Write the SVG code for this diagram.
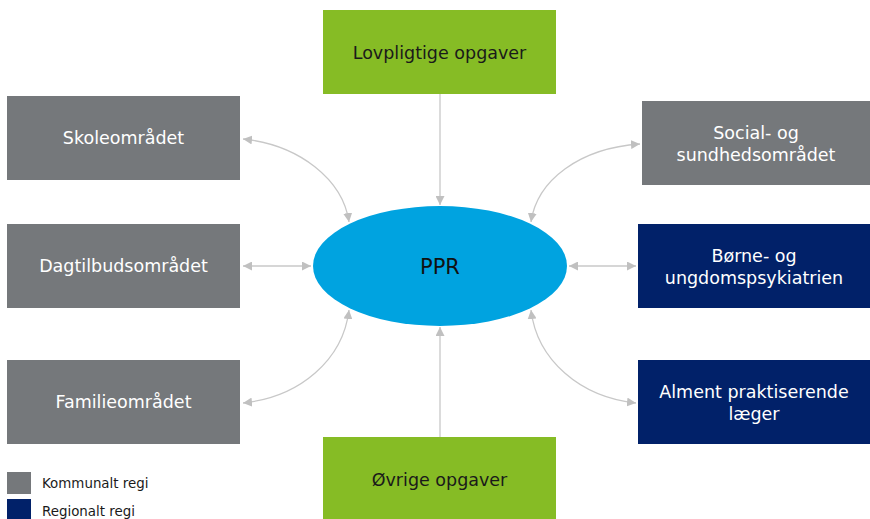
<svg xmlns="http://www.w3.org/2000/svg" width="870" height="519" viewBox="0 0 870 519">
<style>
.box text, .lbl{font-family:"DejaVu Sans","Verdana",sans-serif;font-size:17.5px;text-anchor:middle}
.gray rect{fill:#75787b}
.navy rect{fill:#012169}
.green rect{fill:#86bc25}
.gray text,.navy text{fill:#ffffff}
.green text{fill:#1a1a1a}
.con{fill:none;stroke:#c8c8c8;stroke-width:1.3}
.leg{font-family:"DejaVu Sans","Verdana",sans-serif;font-size:13.4px;fill:#1a1a1a}
</style>
<defs>
<marker id="ah" viewBox="0 0 10 10" refX="10" refY="5" markerWidth="9" markerHeight="9" markerUnits="userSpaceOnUse" orient="auto-start-reverse">
<path d="M0,0 L10,5 L0,10 z" fill="#c0c0c0"/>
</marker>
</defs>
<rect width="870" height="519" fill="#ffffff"/>
<g id="connectors">
<path class="con" d="M440,94 L440,205" marker-end="url(#ah)"/>
<path class="con" d="M440,437 L440,327" marker-end="url(#ah)"/>
<path class="con" d="M243,139 C300,145 343,180 349,222" marker-start="url(#ah)" marker-end="url(#ah)"/>
<path class="con" d="M243,266 L311,266" marker-start="url(#ah)" marker-end="url(#ah)"/>
<path class="con" d="M349,310 C343,360 300,397 243,403" marker-start="url(#ah)" marker-end="url(#ah)"/>
<path class="con" d="M640,144 C580,148 537,180 531,222" marker-start="url(#ah)" marker-end="url(#ah)"/>
<path class="con" d="M569,266 L636,266" marker-start="url(#ah)" marker-end="url(#ah)"/>
<path class="con" d="M531,310 C537,360 580,397 636,403" marker-start="url(#ah)" marker-end="url(#ah)"/>
</g>
<g id="ppr">
<ellipse cx="440" cy="266" rx="127" ry="60" fill="#00a3e0"/>
<text class="lbl" x="440" y="274" fill="#111111" style="font-size:21px">PPR</text>
</g>
<g id="lovpligtige" class="box green"><rect x="323" y="10" width="233" height="84"/><text x="439.5" y="59">Lovpligtige opgaver</text></g>
<g id="ovrige" class="box green"><rect x="323" y="437" width="233" height="82"/><text x="439.5" y="486">Øvrige opgaver</text></g>
<g id="skole" class="box gray"><rect x="7" y="96" width="233" height="84"/><text x="123.5" y="144">Skoleområdet</text></g>
<g id="dagtilbud" class="box gray"><rect x="7" y="224" width="233" height="84"/><text x="123.5" y="272">Dagtilbudsområdet</text></g>
<g id="familie" class="box gray"><rect x="7" y="360" width="233" height="84"/><text x="123.5" y="408">Familieområdet</text></g>
<g id="social" class="box gray"><rect x="642" y="101" width="228" height="84"/><text x="756" y="139">Social- og</text><text x="756" y="161">sundhedsområdet</text></g>
<g id="borne" class="box navy"><rect x="638" y="224" width="232" height="84"/><text x="754" y="262">Børne- og</text><text x="754" y="284">ungdomspsykiatrien</text></g>
<g id="alment" class="box navy"><rect x="638" y="360" width="232" height="84"/><text x="754" y="398">Alment praktiserende</text><text x="754" y="420">læger</text></g>
<g id="legend">
<rect x="7" y="472" width="24" height="22" fill="#75787b"/>
<text class="leg" x="42" y="488">Kommunalt regi</text>
<rect x="7" y="499" width="24" height="20" fill="#012169"/>
<text class="leg" x="42" y="516">Regionalt regi</text>
</g>
</svg>
